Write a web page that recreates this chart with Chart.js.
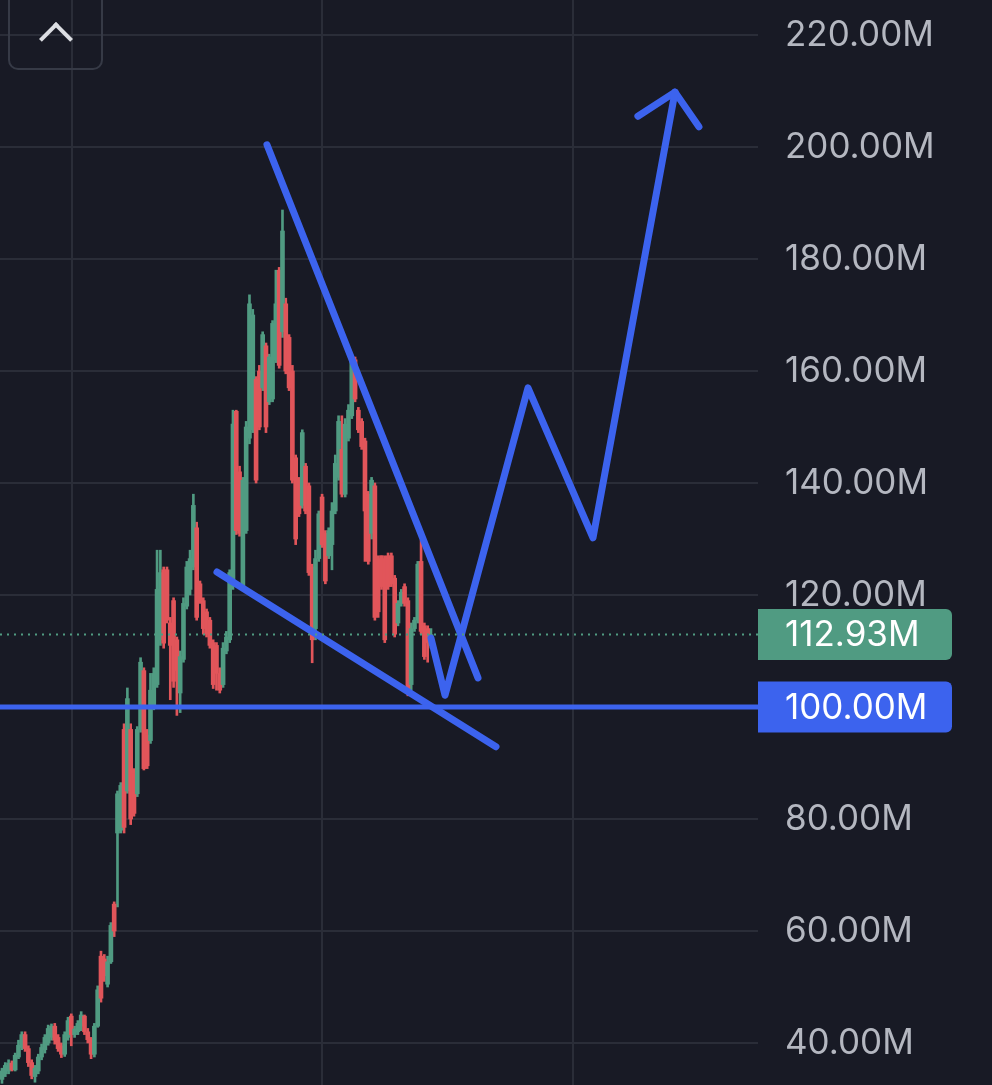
<!DOCTYPE html>
<html>
<head>
<meta charset="utf-8">
<script src="https://cdn.jsdelivr.net/npm/chart.js@4.4.1/dist/chart.umd.min.js"></script>
<style>
  html, body { margin: 0; padding: 0; background: #181a25; }
  #wrap { position: relative; width: 992px; height: 1085px; overflow: hidden; background: #181a25; }
  #btn { position: absolute; left: 8px; top: -14px; width: 95px; height: 84px; box-sizing: border-box;
         border: 2px solid #363a46; border-radius: 10px; }
  #chev { position: absolute; left: 34px; top: 39px; width: 24px; height: 24px; box-sizing: border-box;
          border-left: 4px solid #dcdee3; border-top: 4px solid #dcdee3; transform: rotate(45deg); }
</style>
</head>
<body>
<div id="wrap">
  <canvas id="c" width="992" height="1085"></canvas>
  <div id="btn"><div id="chev"></div></div>
</div>
<script>
// ---- data (values in millions) ----
const opens  = [33.5,34.5,35,36.4,35.2,37.5,39.2,41.5,39,36.5,34,35,37.5,38.8,40,41,43,41,39.5,38,41,44.8,41.5,42,43,44.8,42,40.8,38,43,55.5,55,50.5,54.5,64.8,77.5,78,96,85,96,88,84.5,96,106.5,95,94,100,104,112,124.5,124.5,115,119,112,102.5,108.5,118,121,125,132,122,119,117,115.5,111.5,111,106,104,110,112,121.5,152.8,142,121.5,131.5,148,149.5,158.5,160,157,164.5,154.5,155,162,178,167,172,166,160,144.5,140.5,136,143,139.5,125,114,126.5,137.5,131,127,129,135,141,146,138,148,152,162,153,151,147.5,138,131,139.5,126.5,127,126.5,127,127,123,115,118.5,121.5,119,104,114,115.5,126,114.5,114,111];
const highs  = [35.5,36.5,37,36.8,38.2,40.5,42,42,39.5,37,36,38,39.8,41.5,43.2,43.4,43.5,41.5,40,42,44.6,45.2,43,44,45.6,45,42.6,41,43.5,50.2,56.4,55.8,55.5,61.5,65.2,85,86.5,97,103.4,97,89,96.5,108.8,107,96,106,107,128,128,125,125,116,119.5,112.5,110,119.5,126,128,138,133,122.5,119.5,117.5,116,112,111.5,107,111.5,113.5,124.5,153,153,143,141,151,173.6,171,159,161,167,165,163,169,178,178.5,188.75,173,166.5,161,145,141,149.5,143.5,140,125.5,128,135,138,131.5,132,136.5,145,152,152,151.5,154,163,162.5,153.5,151.5,148,138.5,141,140,127,127,127,127.5,127.5,123.5,119,121,122,119.5,115,116,126,129.8,115,114.5,114];
const lows   = [32.8,34,34.5,35,35,37.2,38.8,38.5,35.8,33.6,33,34.5,37,38.2,39.6,40.5,39.8,38.5,37.4,37.6,40.5,39.5,41,41.5,42.2,41.5,40,37.2,37.5,42.8,47.3,51,50,54.2,59,64.3,77.5,77.5,84.6,79,80.5,84,95.5,88.75,89,93.5,99.5,103.5,111,110.5,115,101.3,103.5,98.5,99,108,117.5,120,124.5,115.5,118.5,113,112.5,110.5,103.3,103,102.5,103.5,109.5,111.5,121,130.8,130.5,121,131,147,149,140,149.5,156.5,149,154,154.5,161.5,160.5,166,159.5,156.5,140,129,134,135.5,134.5,123.5,107.9,112,126,128.5,122,126.5,124.5,134.5,140.5,137.5,137.5,147.5,151.5,154.5,149,146,126,125.5,130,115.5,116,121,111.5,121,121.5,112.5,114.5,118,118,102,103,113.5,115,113,108.5,108,110.5];
const closes = [35,36,36.4,35.2,37.8,39.6,41.5,39,36.5,34.2,35.5,37.5,39.2,41,42.6,43,40.5,39,38,41.5,44,41.5,42.5,43.5,45,42,40.6,38,43,49.5,48,52,54.5,61,60,84.5,86,78.5,101.5,80,81,96,108,89,89.5,103,106,121,124,111.4,115.5,111,104.6,106.5,109,118.5,125,126.5,136,116,119,114,113,111,104,106,103,110.5,112.5,124,150.5,131.5,131,140.5,150,172,170,140.5,150,166.5,150,162.5,168.5,172,161,185,160,157,140.5,130,134.5,149,135,124,112,126.5,134.5,129,122.5,131.5,135,143.5,151,138,150.5,153,162,155,149.5,146.5,135,126,140.5,116,117,121.5,112,121.5,122,113,118.5,120.5,118.5,103,114,115.5,125.5,113.5,109,111.5,112.93];

const yTickValues = [40, 60, 80, 100, 120, 140, 160, 180, 200, 220];
const lastPrice = 112.93;
const levelPrice = 100;

// hand-drawn annotations, in (bar index, price) units
const wedgeUpper = [{x: 80.3, y: 200.4}, {x: 144.25, y: 105.2}];
const wedgeLower = [{x: 65.15, y: 124.1}, {x: 149.7, y: 92.9}];
const projection = [{x: 130.0, y: 112.3}, {x: 134.25, y: 102.1}, {x: 159.4, y: 157.0}, {x: 179.1, y: 130.2}, {x: 203.95, y: 209.8}];
const arrowHead  = [{x: 192.7, y: 205.5}, {x: 203.95, y: 209.8}, {x: 211.2, y: 203.6}];
const timeGridAt = [21.2, 97.0, 172.9];

// ---- styling ----
const GREEN = '#509b82';
const RED = '#e1555a';
const BLUE = '#3c63ee';
const GRID = '#2a2d38';
const LABEL = '#b4b7c0';
const FONT = '"Inter", "Roboto", sans-serif';
const FONT_SIZE = 35;

const idx = opens.map((_, i) => i);
const colors = idx.map(i => closes[i] >= opens[i] ? GREEN : RED);
const fmt = v => v.toFixed(2) + 'M';

const overlay = {
  id: 'overlay',
  afterDatasetsDraw(chart) {
    const { ctx, chartArea: a, scales: { y } } = chart;
    ctx.save();
    const yl = y.getPixelForValue(lastPrice);
    ctx.strokeStyle = GREEN; ctx.lineWidth = 2; ctx.setLineDash([2, 5]);
    ctx.beginPath(); ctx.moveTo(a.left, yl); ctx.lineTo(a.right, yl); ctx.stroke();
    ctx.setLineDash([]);
    const yv = y.getPixelForValue(levelPrice);
    ctx.strokeStyle = BLUE; ctx.lineWidth = 5;
    ctx.beginPath(); ctx.moveTo(a.left, yv); ctx.lineTo(a.right, yv); ctx.stroke();
    ctx.restore();
  },
  afterDraw(chart) {
    const { ctx, chartArea: a, scales: { y } } = chart;
    const boxes = [[lastPrice, GREEN], [levelPrice, BLUE]];
    ctx.save();
    for (const [v, col] of boxes) {
      const yc = y.getPixelForValue(v);
      ctx.fillStyle = col;
      ctx.beginPath();
      ctx.roundRect(a.right, yc - 25.5, 194, 51, [0, 6, 6, 0]);
      ctx.fill();
      ctx.fillStyle = '#ffffff';
      ctx.font = FONT_SIZE + 'px ' + FONT;
      ctx.textAlign = 'left';
      ctx.textBaseline = 'middle';
      ctx.fillText(fmt(v), a.right + 27, yc + 1);
    }
    ctx.restore();
  }
};

const lineDs = (data) => ({
  type: 'line', data, borderColor: BLUE, borderWidth: 7, pointRadius: 0, tension: 0,
  borderCapStyle: 'round', borderJoinStyle: 'round', fill: false, order: 0
});

const noPad = s => { s.paddingTop = 0; s.paddingBottom = 0; s.paddingLeft = 0; s.paddingRight = 0; };

new Chart(document.getElementById('c'), {
  type: 'bar',
  data: {
    datasets: [
      lineDs(wedgeUpper),
      lineDs(wedgeLower),
      lineDs(projection),
      lineDs(arrowHead),
      { type: 'bar', data: idx.map(i => ({ x: i, y: [Math.min(opens[i], closes[i]), Math.max(opens[i], closes[i])] })),
        backgroundColor: colors, barThickness: 4, grouped: false, minBarLength: 1, order: 1 },
      { type: 'bar', data: idx.map(i => ({ x: i, y: [lows[i], highs[i]] })),
        backgroundColor: colors, barThickness: 2, grouped: false, order: 2 }
    ]
  },
  options: {
    responsive: false,
    animation: false,
    events: [],
    layout: { padding: 0 },
    plugins: { legend: { display: false }, tooltip: { enabled: false } },
    scales: {
      x: {
        type: 'linear', min: -0.6, max: 229.1, offset: false,
        grid: { color: GRID, lineWidth: 2, drawTicks: false, offset: false },
        border: { display: false },
        ticks: { display: false },
        afterBuildTicks: s => { s.ticks = timeGridAt.map(v => ({ value: v })); },
        afterFit: s => { s.height = 0; noPad(s); }
      },
      y: {
        type: 'linear', position: 'right', min: 32.5, max: 226.25,
        grid: { color: GRID, lineWidth: 2, drawTicks: false },
        border: { display: false },
        ticks: { color: LABEL, padding: 27, font: { family: FONT, size: FONT_SIZE }, callback: v => fmt(v) },
        afterBuildTicks: s => { s.ticks = yTickValues.map(v => ({ value: v })); },
        afterFit: s => { s.width = 234; noPad(s); }
      }
    }
  },
  plugins: [overlay]
});
</script>
</body>
</html>
